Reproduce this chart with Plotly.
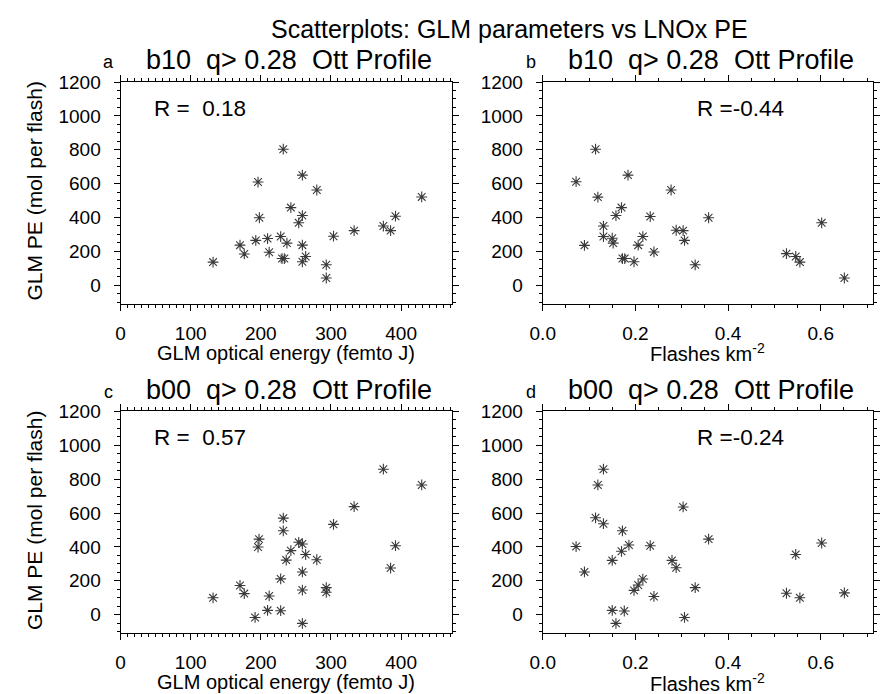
import plotly.graph_objects as go

# ---------------- data ----------------
energy_a = [131.9, 170.3, 176.4, 192.8, 196.0, 197.9, 209.6, 211.9, 228.3, 230.2,
            233.5, 232.0, 237.2, 242.8, 254.0, 259.2, 259.2, 259.2, 259.2, 263.9,
            279.8, 293.3, 293.3, 303.6, 333.0, 374.7, 385.0, 392.0, 429.4]
pe_a = [136, 236, 184, 264, 609, 398, 275, 194, 287, 157,
        157, 803, 248, 458, 368, 411, 650, 236, 138, 169,
        562, 120, 42, 289, 322, 349, 322, 407, 521]

flash_b = [0.072, 0.090, 0.114, 0.119, 0.131, 0.131, 0.150, 0.152, 0.158, 0.170,
           0.172, 0.177, 0.184, 0.197, 0.206, 0.216, 0.232, 0.240, 0.277, 0.288,
           0.303, 0.306, 0.329, 0.358, 0.526, 0.546, 0.555, 0.602, 0.651]
pe_b = [611, 235, 803, 520, 349, 287, 277, 248, 411, 458,
        157, 157, 650, 138, 236, 287, 405, 196, 562, 324,
        322, 264, 120, 398, 186, 169, 136, 368, 42]

energy_c = [131.9, 170.3, 176.4, 191.8, 197.4, 196.0, 209.6, 211.9, 228.3, 228.3,
            232.0, 232.0, 236.2, 242.8, 254.0, 259.2, 259.2, 259.2, 259.2, 263.9,
            279.8, 293.3, 293.3, 303.6, 333.0, 374.7, 385.0, 392.0, 429.4]
pe_c = [99, 172, 124, -17, 446, 399, 25, 110, 23, 211,
        570, 495, 322, 378, 427, 417, 252, 145, -52, 355,
        324, 159, 132, 533, 638, 859, 275, 407, 766]

flash_d = [0.072, 0.090, 0.114, 0.119, 0.131, 0.131, 0.150, 0.150, 0.158, 0.172,
           0.170, 0.176, 0.186, 0.197, 0.206, 0.216, 0.232, 0.240, 0.279, 0.288,
           0.303, 0.306, 0.329, 0.358, 0.526, 0.546, 0.555, 0.602, 0.651]
pe_d = [402, 252, 572, 766, 859, 537, 320, 25, -52, 495,
        374, 21, 411, 143, 175, 210, 407, 107, 320, 277,
        636, -17, 159, 446, 126, 355, 99, 423, 128]

titles = ["b10\u00a0\u00a0q>\u00a00.28\u00a0\u00a0Ott\u00a0Profile",
          "b10\u00a0\u00a0q>\u00a00.28\u00a0\u00a0Ott\u00a0Profile",
          "b00\u00a0\u00a0q>\u00a00.28\u00a0\u00a0Ott\u00a0Profile",
          "b00\u00a0\u00a0q>\u00a00.28\u00a0\u00a0Ott\u00a0Profile"]
letters = ["a", "b", "c", "d"]
r_texts = ["R\u00a0=\u00a0\u00a00.18", "R\u00a0=-0.44", "R\u00a0=\u00a0\u00a00.57", "R\u00a0=-0.24"]
main_title = "Scatterplots: GLM parameters vs LNOx PE"
ytitle = "GLM PE (mol per flash)"
xtitle_energy = "GLM optical energy (femto J)"
xtitle_flash = "Flashes km<sup>-2</sup>"

# ---------------- layout helpers ----------------
W, H = 880, 694
FONT = "Liberation Sans, Arial, Helvetica, sans-serif"

def fx(p):
    return p / W

def fy(p):
    return 1 - p / H

xpx = {"L": (109.3, 445.7), "R": (538.3, 874.0)}
ypx = {"T": (73.0, 298.0), "B": (407.3, 632.3)}

panels = [
    ("L", "T", energy_a, pe_a, "energy"),
    ("R", "T", flash_b, pe_b, "flash"),
    ("L", "B", energy_c, pe_c, "energy"),
    ("R", "B", flash_d, pe_d, "flash"),
]

fig = go.Figure()

common = dict(showline=True, linecolor="black", linewidth=1, mirror="ticks",
              ticks="outside", ticklen=6, tickwidth=1, tickcolor="black",
              showgrid=False, zeroline=False,
              tickfont=dict(size=19, color="black", family=FONT))

annotations = []
for i, (cx, cy, xs, ys, kind) in enumerate(panels):
    n = "" if i == 0 else str(i + 1)
    fig.add_trace(go.Scatter(
        x=xs, y=ys, mode="markers", xaxis="x" + n, yaxis="y" + n,
        marker=dict(symbol="asterisk-open", size=9, color="#3a3a3a",
                    line=dict(color="#3a3a3a", width=1.1)),
        showlegend=False, hoverinfo="skip"))
    x0, x1 = xpx[cx]
    y0, y1 = ypx[cy]
    if kind == "energy":
        xa = dict(common, range=[0, 472], tick0=0, dtick=100,
                  minor=dict(ticks="outside", ticklen=3, tickcolor="black", dtick=10, tick0=0))
    else:
        xa = dict(common, range=[0, 0.713], tick0=0, dtick=0.2, tickformat=".1f",
                  minor=dict(ticks="outside", ticklen=3, tickcolor="black", dtick=0.05, tick0=0))
    xa.update(domain=[fx(x0), fx(x1)], anchor="y" + n, ticklabelstandoff=6)
    ya = dict(common, range=[-110, 1200.5], tick0=0, dtick=200,
              minor=dict(ticks="outside", ticklen=3, tickcolor="black", dtick=50, tick0=0),
              domain=[fy(y1), fy(y0)], anchor="x" + n, ticklabelstandoff=9)
    fig.layout["xaxis" + n] = xa
    fig.layout["yaxis" + n] = ya

    xc = (x0 + x1) / 2
    # panel title
    annotations.append(dict(text=titles[i], x=fx(xc + 3), y=fy(y0 - 22), xref="paper", yref="paper",
                            xanchor="center", yanchor="middle", showarrow=False,
                            font=dict(size=27, family=FONT, color="black")))
    annotations.append(dict(text=letters[i], x=fx(x0 - 12), y=fy(y0 - 20), xref="paper", yref="paper",
                            xanchor="center", yanchor="middle", showarrow=False,
                            font=dict(size=18, family=FONT, color="black")))
    # R value
    rx = x0 + 31.5 if cx == "L" else x0 + 154.5
    annotations.append(dict(text=r_texts[i], x=fx(rx), y=fy(y0 + 26.5), xref="paper", yref="paper",
                            xanchor="left", yanchor="middle", showarrow=False,
                            font=dict(size=22.5, family=FONT, color="black")))
    # x title
    annotations.append(dict(text=xtitle_energy if kind == "energy" else xtitle_flash,
                            x=fx(xc), y=fy(y1 + 50), xref="paper", yref="paper",
                            xanchor="center", yanchor="middle", showarrow=False,
                            font=dict(size=20, family=FONT, color="black")))
    # y title
    if cx == "L":
        annotations.append(dict(text=ytitle, x=fx(22), y=fy((y0 + y1) / 2 - 2), xref="paper", yref="paper",
                                xanchor="center", yanchor="middle", showarrow=False, textangle=-90,
                                font=dict(size=21, family=FONT, color="black")))

annotations.append(dict(text=main_title, x=fx(505), y=fy(19), xref="paper", yref="paper",
                        xanchor="center", yanchor="middle", showarrow=False,
                        font=dict(size=25, family=FONT, color="black")))

fig.update_layout(width=W, height=H, margin=dict(l=0, r=0, t=0, b=0),
                  paper_bgcolor="white", plot_bgcolor="white",
                  annotations=annotations, font=dict(family=FONT, color="black"))

fig.write_html("out.html", config={"displayModeBar": False},
               post_script="document.body.style.margin='0';document.body.style.overflow='hidden';")
